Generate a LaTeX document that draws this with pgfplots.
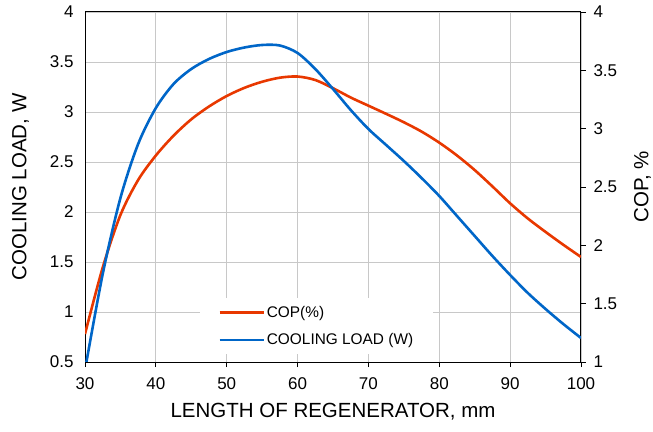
\documentclass[border=0pt]{standalone}
\usepackage{fontspec}
\setmainfont{Liberation Sans}
\usepackage{pgfplots}
\pgfplotsset{compat=1.18}
\definecolor{copred}{RGB}{232,56,0}
\definecolor{clblue}{RGB}{0,102,200}
\definecolor{gridgray}{RGB}{200,200,200}
\begin{document}
\begin{tikzpicture}[x=1pt,y=1pt]
\useasboundingbox (0,0) rectangle (653,431);
\pgfplotsset{
  base/.style={
    scale only axis, width=496pt, height=350pt,
    at={(85pt,69pt)}, anchor=south west,
    xmin=30, xmax=100,
    /pgf/number format/assume math mode=true,
    tick label style={font=\fontsize{17}{17}\selectfont},
    label style={font=\fontsize{20.5}{20.5}\selectfont},
  }
}
% axis 1: grid, left ticks, x ticks
\begin{axis}[base,
  ymin=0.5, ymax=4,
  xtick={30,40,...,100},
  ytick={0.5,1,...,4},
  grid=major,
  major grid style={gridgray, line width=0.9pt},
  xtick pos=bottom, xtick align=outside,
  ytick pos=left,
  major tick length=5pt,
  xtick style={black, line width=0.8pt},
  ytick style={draw=none},
  axis line style={black, line width=1pt},
  yticklabel style={xshift=-8pt},
  xticklabel style={yshift=-7pt},
  xlabel={LENGTH OF REGENERATOR, mm},
  ylabel={COOLING LOAD, W},
  xlabel style={yshift=-7pt},
  ylabel style={yshift=14pt},
]
\end{axis}
% axis 2: COP on right axis
\begin{axis}[base,
  ymin=1, ymax=4,
  axis y line*=right, axis x line=none,
  ytick={1,1.5,...,4},
  ytick align=outside,
  major tick length=5pt,
  ytick style={black, line width=0.8pt},
  axis line style={black, line width=1pt},
  yticklabel style={xshift=4pt},
  ylabel={COP, \%},
  ylabel style={yshift=-10pt},
]
\addplot[copred, line width=2.6pt, smooth, tension=0.5] coordinates {
(30,1.240) (32.5,1.810) (35,2.260) (37.5,2.560) (40,2.770) (42.5,2.940)
(45,3.080) (47.5,3.190) (50,3.280) (52.5,3.350) (55,3.402) (57.5,3.437)
(60,3.447) (62.5,3.417) (65,3.347) (67.5,3.267) (70,3.197) (72.5,3.127)
(75,3.055) (77.5,2.975) (80,2.880) (82.5,2.770) (85,2.645) (87.5,2.505)
(90,2.360) (92.5,2.230) (95,2.115) (97.5,2.005) (100,1.900)
};
\end{axis}
% axis 3: cooling load on left scale, legend
\begin{axis}[base,
  ymin=0.5, ymax=4,
  axis lines=none,
  legend style={at={(rel axis cs:0.232,0.183)}, anchor=north west,
    draw=none, fill=white, font=\fontsize{15.4}{15.4}\selectfont,
    inner xsep=18pt, inner ysep=6pt, row sep=11pt},
  legend cell align=left,
  legend image code/.code={\draw[#1, line width=2.6pt] (0pt,0pt) -- (44pt,0pt);},
]
\addlegendimage{copred}
\addlegendentry{COP(\%)}
\addplot[clblue, line width=2.6pt, smooth, tension=0.5] coordinates {
(30,0.42) (32.5,1.38) (35,2.14) (37.5,2.68) (40,3.04) (42.5,3.28)
(45,3.43) (47.5,3.53) (50,3.60) (52.5,3.645) (55,3.67) (57.5,3.665)
(60,3.59) (62.5,3.43) (65,3.23) (67.5,3.02) (70,2.83) (72.5,2.67)
(75,2.51) (77.5,2.34) (80,2.16) (82.5,1.96) (85,1.76) (87.5,1.56)
(90,1.37) (92.5,1.19) (95,1.03) (97.5,0.88) (100,0.74)
};
\addlegendentry{COOLING LOAD (W)}
\end{axis}
\end{tikzpicture}
\end{document}
